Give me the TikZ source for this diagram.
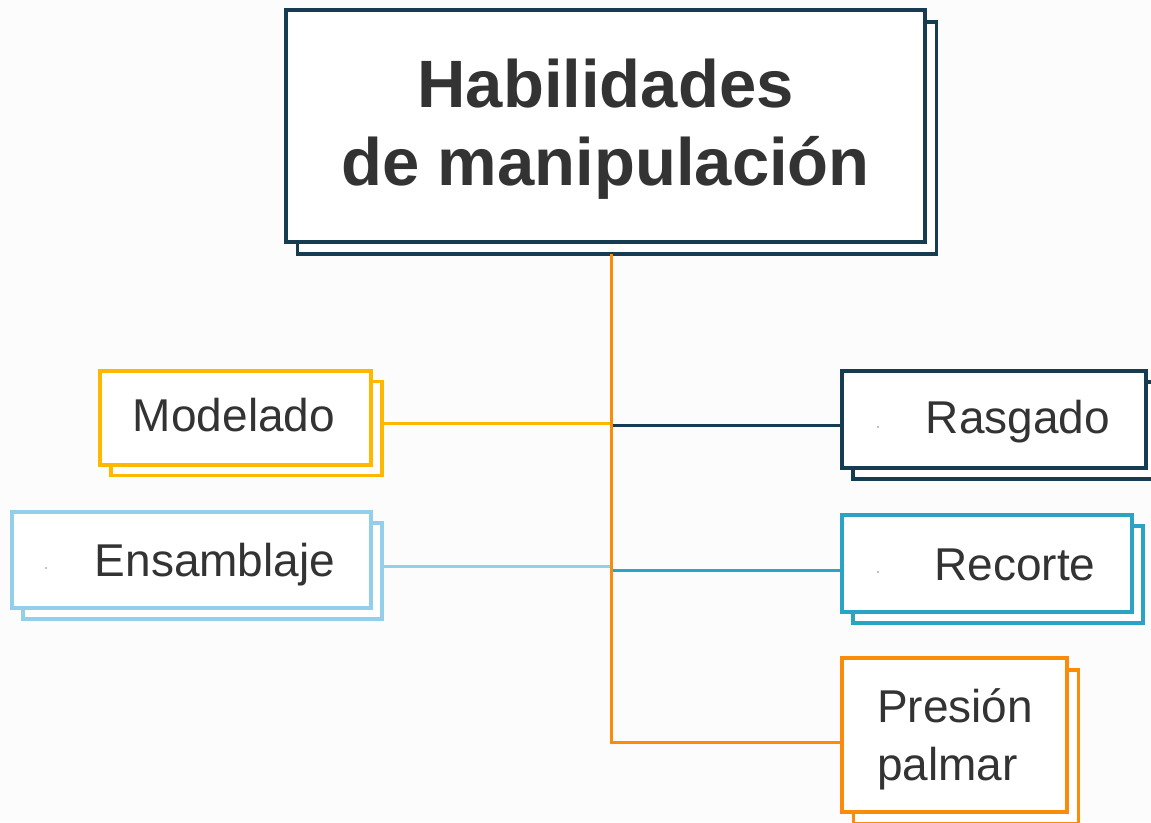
\documentclass[tikz,border=0pt]{standalone}
\usepackage{fontspec}
\setmainfont{Liberation Sans}
\definecolor{navy}{RGB}{22,60,82}
\definecolor{amber}{RGB}{255,183,0}
\definecolor{skyblue}{RGB}{147,206,234}
\definecolor{teal2}{RGB}{43,163,196}
\definecolor{orange2}{RGB}{250,140,10}
\definecolor{txt}{RGB}{51,51,51}
\definecolor{bg}{RGB}{252,252,252}
\begin{document}
\begin{tikzpicture}[x=1pt,y=-1pt,
  box/.style={draw=#1, line width=3.5pt, fill=white, inner sep=0pt, outer sep=0pt},
  conn/.style={line width=3pt, draw=#1},
  titletext/.style={text=txt, font=\fontsize{67}{75}\selectfont\bfseries, anchor=base, inner sep=0pt},
  label/.style={text=txt, font=\fontsize{46}{54}\selectfont, anchor=base, inner sep=0pt},
  speck/.style={fill=txt!60, circle, inner sep=0pt, minimum size=1.6pt}]
\useasboundingbox (0,0) rectangle (1151,822);
\fill[bg] (0,0) rectangle (1151,822);
\clip (0,0) rectangle (1151,822);

% title
\node[box=navy, minimum width=639pt, minimum height=232pt] (titleB) at (617,138) {};
\node[box=navy, minimum width=639pt, minimum height=232pt] (title) at (605.5,126) {};
\node[titletext] (t1) at (605.5,107) {Habilidades};
\node[titletext] (t2) at (605.5,185) {de manipulación};

% Modelado
\node[box=amber, minimum width=271pt, minimum height=94pt] (modB) at (246.5,428.5) {};
\node[box=amber, minimum width=271pt, minimum height=94pt] (mod) at (235.5,418) {};
\node[label] (modT) at (234,431) {Modelado};

% Ensamblaje
\node[box=skyblue, minimum width=359pt, minimum height=96pt] (ensB) at (202.5,571) {};
\node[box=skyblue, minimum width=359pt, minimum height=96pt] (ens) at (191.5,560) {};
\node[label] (ensT) at (215,576) {Ensamblaje};
\node[speck] (ensD) at (46,568) {};

% Rasgado
\node[box=navy, minimum width=304pt, minimum height=97pt] (rasB) at (1005,430.5) {};
\node[box=navy, minimum width=304pt, minimum height=97pt] (ras) at (994,419.5) {};
\node[label] (rasT) at (1018,433) {Rasgado};
\node[speck] (rasD) at (878,427) {};

% Recorte
\node[box=teal2, minimum width=290pt, minimum height=97pt] (recB) at (998,574.5) {};
\node[box=teal2, minimum width=290pt, minimum height=97pt] (rec) at (987,563.5) {};
\node[label] (recT) at (1015,580) {Recorte};
\node[speck] (recD) at (878,572) {};

% Presion palmar
\node[box=orange2, minimum width=225pt, minimum height=154pt] (preB) at (966,747) {};
\node[box=orange2, minimum width=225pt, minimum height=154pt] (pre) at (954.5,735) {};
\node[label, anchor=base west] (preT1) at (877,722) {Presión};
\node[label, anchor=base west] (preT2) at (877,780) {palmar};

% connectors
\coordinate (jm) at (611,423);
\coordinate (jr) at (611,425);
\coordinate (je) at (611,566);
\coordinate (jc) at (611,570);
\coordinate (jp) at (611,742);
\draw[conn=amber] (jm) -- (jm -| modB.east);
\draw[conn=skyblue] (je) -- (je -| ensB.east);
\draw[conn=navy] (jr) -- (jr -| ras.west);
\draw[conn=teal2] (jc) -- (jc -| rec.west);
\draw[conn=orange2] (titleB.south -| jp) -- (jp) -- (jp -| pre.west);
\end{tikzpicture}
\end{document}
